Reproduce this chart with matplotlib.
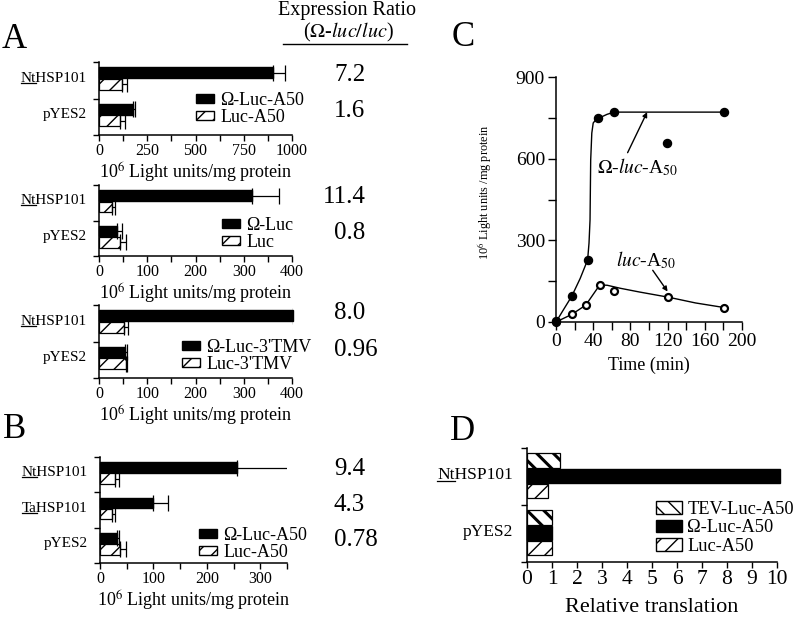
import matplotlib
matplotlib.use("Agg")
import matplotlib.pyplot as plt
from matplotlib.patches import Patch
from matplotlib.lines import Line2D
from matplotlib.ticker import MultipleLocator
from matplotlib.transforms import blended_transform_factory

plt.rcParams['font.family'] = ['Liberation Serif', 'DejaVu Serif']
plt.rcParams['mathtext.fontset'] = 'stix'
plt.rcParams['hatch.linewidth'] = 1.0

# ---- data ----
a_cats = ["NtHSP101", "pYES2"]
b_cats = ["NtHSP101", "TaHSP101", "pYES2"]

a1_omega = [902, 174]
a1_omega_err = [60, 12]
a1_luc = [117, 109]
a1_luc_err = [26, 25]
a1_ratio = ["7.2", "1.6"]

a2_omega = [317, 37]
a2_omega_err = [56, 10]
a2_luc = [26, 43]
a2_luc_err = [7, 12]
a2_ratio = ["11.4", "0.8"]

a3_omega = [403, 54]
a3_omega_err = [2, 3]
a3_luc = [52, 56]
a3_luc_err = [9, 3]
a3_ratio = ["8.0", "0.96"]

b_omega = [257, 100, 31]
b_omega_err = [99, 27, 4]
b_luc = [28, 22, 37]
b_luc_err = [7, 6, 11]
b_ratio = ["9.4", "4.3", "0.78"]

# panel C: time course (min, 10^6 light units/mg protein)
c_omega_t = [0, 17, 34, 45.5, 62.7, 119, 180.6]
c_omega_y = [5, 95, 228, 748, 773, 656, 773]
c_luc_t = [0, 17, 32, 47, 62.4, 120.8, 181]
c_luc_y = [0, 28, 62, 136, 114, 91, 53]
# hand drawn fit curves
c_omega_fit_t = [0, 8, 17, 26, 34, 35.5, 36.6, 37.3, 38.5, 40, 42.5, 45.5, 55, 62.7, 120, 183]
c_omega_fit_y = [0, 45, 95, 160, 228, 290, 375, 595, 694, 731, 742, 748, 763, 771, 771, 771]
c_luc_fit_t = [0, 17, 32, 47, 55, 69, 90, 121, 150, 181]
c_luc_fit_y = [0, 28, 62, 136, 135, 124, 110, 91, 70, 53]

# panel D: relative translation
d_cats = ["NtHSP101", "pYES2"]
d_tev = [1.33, 1.0]
d_omega = [10.1, 1.0]
d_luc = [0.85, 1.0]

W, H = 800, 617
fig = plt.figure(figsize=(8, 6.17), dpi=100)


def rect(x0, y0, x1, y1):
    return [x0 / W, 1 - y1 / H, (x1 - x0) / W, (y1 - y0) / H]


def style_axes(ax, fs):
    for s in ["top", "right"]:
        ax.spines[s].set_visible(False)
    for s in ["left", "bottom"]:
        ax.spines[s].set_linewidth(1.1)
    ax.tick_params(which="both", direction="out", length=4, width=1.0,
                   labelsize=fs, pad=2)


def thick_hatch(patches, lw):
    for p in patches:
        if hasattr(p, "set_hatch_linewidth"):
            p.set_hatch_linewidth(lw)


underlined = []


def cat_labels(ax, cats, fs, xoff, yoff=0.55):
    n = len(cats)
    tr = ax.get_yaxis_transform()
    for i, c in enumerate(cats):
        t = ax.text(xoff, n - 1 - i + yoff, c, transform=tr, ha="right",
                    va="center", fontsize=fs)
        if c[:2] in ("Nt", "Ta"):
            underlined.append((t, c[:2]))


def bar_panel(box, cats, omega, omega_err, luc, luc_err, ratio, xmax,
              major, minor, leg_labels, leg_xy, ratio_dy=0.65):
    ax = fig.add_axes(rect(*box))
    n = len(cats)
    base = [n - 1 - i for i in range(n)]
    ekw = dict(capsize=6, elinewidth=0.9, capthick=0.9, ecolor="black")
    ax.barh([b + 0.70 for b in base], omega, height=0.30, color="black",
            edgecolor="black", xerr=[[0] * n, omega_err], error_kw=ekw,
            clip_on=False)
    ax.barh([b + 0.385 for b in base], luc, height=0.30, color="white",
            edgecolor="black", hatch="//", linewidth=0.9,
            xerr=[[0] * n, luc_err], error_kw=ekw, clip_on=False)
    ax.set_xlim(0, xmax)
    ax.set_ylim(0, n)
    ax.set_yticks(range(n + 1))
    ax.set_yticklabels([])
    ax.xaxis.set_major_locator(MultipleLocator(major))
    ax.xaxis.set_minor_locator(MultipleLocator(minor))
    style_axes(ax, 11.5)
    ax.set_xlabel(r"10$^{6}$ Light units/mg protein", fontsize=13, labelpad=1)
    cat_labels(ax, cats, 11, -12 / (box[2] - box[0]))
    # expression ratios, aligned on the decimal point
    tr = blended_transform_factory(fig.transFigure, ax.transData)
    for b, r in zip(base, ratio):
        x = 334 - 11 * (len(r.split(".")[0]) - 1)
        ax.text(x / W, b + ratio_dy, r, transform=tr, ha="left", va="center",
                fontsize=18)
    handles = [Patch(facecolor="black", edgecolor="black"),
               Patch(facecolor="white", edgecolor="black", hatch="//")]
    fig.legend(handles, leg_labels, loc="center left",
               bbox_to_anchor=(leg_xy[0] / W, 1 - leg_xy[1] / H),
               frameon=False, fontsize=13, handlelength=1.0,
               handleheight=0.45, handletextpad=0.35, labelspacing=0.0,
               borderpad=0, borderaxespad=0)
    return ax


# ---- panel A ----
bar_panel((99, 62, 292, 135), a_cats, a1_omega, a1_omega_err, a1_luc,
          a1_luc_err, a1_ratio, 1000, 250, 125,
          ["Ω-Luc-A50", "Luc-A50"], (196, 109))
bar_panel((99, 185, 292, 256), a_cats, a2_omega, a2_omega_err, a2_luc,
          a2_luc_err, a2_ratio, 400, 100, 50,
          ["Ω-Luc", "Luc"], (222, 234))
bar_panel((99, 305, 292, 378), a_cats, a3_omega, a3_omega_err, a3_luc,
          a3_luc_err, a3_ratio, 400, 100, 50,
          ["Ω-Luc-3'TMV", "Luc-3'TMV"], (182, 356), ratio_dy=0.78)

# ---- panel B ----
bar_panel((100, 457, 287, 563), b_cats, b_omega, b_omega_err, b_luc,
          b_luc_err, b_ratio, 350, 100, 50,
          ["Ω-Luc-A50", "Luc-A50"], (199, 544))

fig.text(347 / W, 1 - 11 / H, "Expression Ratio", ha="center", va="center",
         fontsize=14.5)
fig.text(348 / W, 1 - 32 / H, r"($\Omega$-$\mathit{luc/luc}$)", ha="center",
         va="center", fontsize=14.5)
fig.add_artist(Line2D([283 / W, 407 / W], [1 - 44 / H, 1 - 44 / H],
                      color="black", lw=1.0))

for letter, x, y in [("A", 2, 40), ("B", 3, 430), ("C", 452, 37), ("D", 450, 431)]:
    fig.text(x / W, 1 - y / H, letter, fontsize=25, ha="left", va="center")

# ---- panel C ----
axc = fig.add_axes(rect(556, 77, 742, 322))
axc.plot(c_omega_fit_t, c_omega_fit_y, color="black", lw=1.0)
axc.plot(c_luc_fit_t, c_luc_fit_y, color="black", lw=1.0)
axc.plot(c_luc_t, c_luc_y, "o", ms=5, mfc="white", mec="black", mew=1.6,
         clip_on=False)
axc.plot(c_omega_t, c_omega_y, "o", ms=5.8, color="black", clip_on=False)
axc.set_xlim(0, 200)
axc.set_ylim(0, 900)
axc.xaxis.set_major_locator(MultipleLocator(40))
axc.xaxis.set_minor_locator(MultipleLocator(20))
axc.yaxis.set_major_locator(MultipleLocator(300))
axc.yaxis.set_minor_locator(MultipleLocator(150))
style_axes(axc, 14)
axc.tick_params(which="both", length=6)
axc.set_xlabel("Time (min)", fontsize=13, labelpad=5)
fig.text(484 / W, 1 - 192 / H, r"10$^{6}$ Light units /mg protein",
         fontsize=8.8, rotation=90, ha="center", va="center")
arrow = dict(arrowstyle="-|>", color="black", lw=1.0, mutation_scale=7,
             shrinkA=0, shrinkB=0)
axc.text(44, 568, r"$\Omega$-$\mathit{luc}$-A$_{50}$", fontsize=14,
         ha="left", va="center")
axc.annotate("", xy=(98, 771), xytext=(77, 622), arrowprops=arrow)
axc.text(65, 228, r"$\mathit{luc}$-A$_{50}$", fontsize=14, ha="left",
         va="center")
axc.annotate("", xy=(120, 112), xytext=(104, 190), arrowprops=arrow)

# ---- panel D ----
axd = fig.add_axes(rect(527, 448, 777, 562))
nd = len(d_cats)
dbase = [nd - 1 - i for i in range(nd)]
tev = axd.barh([b + 0.775 for b in dbase], d_tev, height=0.26, color="white",
               edgecolor="black", hatch="\\\\", linewidth=0.9)
thick_hatch(tev, 2.2)
axd.barh([b + 0.51 for b in dbase], d_omega, height=0.26, color="black",
         edgecolor="black", clip_on=False)
axd.barh([b + 0.245 for b in dbase], d_luc, height=0.26, color="white",
         edgecolor="black", hatch="//", linewidth=0.9)
axd.set_xlim(0, 10)
axd.set_ylim(0, nd)
axd.set_yticks(range(nd + 1))
axd.set_yticklabels([])
axd.xaxis.set_major_locator(MultipleLocator(1))
style_axes(axd, 15.5)
axd.set_xlabel("Relative translation", fontsize=16, labelpad=6)
cat_labels(axd, d_cats, 12.5, -14 / 250, yoff=0.52)
dh = [Patch(facecolor="white", edgecolor="black", hatch="\\\\"),
      Patch(facecolor="black", edgecolor="black"),
      Patch(facecolor="white", edgecolor="black", hatch="//")]
thick_hatch(dh[:1], 2.2)
fig.legend(dh, ["TEV-Luc-A50", "Ω-Luc-A50", "Luc-A50"], loc="center left",
           bbox_to_anchor=(656 / W, 1 - 528 / H), frameon=False,
           fontsize=13.2, handlelength=1.4, handleheight=0.65,
           handletextpad=0.3, labelspacing=0.08, borderpad=0,
           borderaxespad=0)

# underline the species prefixes (Nt, Ta)
fig.canvas.draw()
rend = fig.canvas.get_renderer()
for t, pre in underlined:
    bb = t.get_window_extent(rend)
    tmp = fig.text(0, 0, pre, fontproperties=t.get_fontproperties())
    w = tmp.get_window_extent(rend).width
    tmp.remove()
    y = (bb.y0 + 0.17 * bb.height) / H
    fig.add_artist(Line2D([bb.x0 / W, (bb.x0 + w) / W], [y, y],
                          color="black", lw=0.9))

fig.savefig("out.png", dpi=100)
